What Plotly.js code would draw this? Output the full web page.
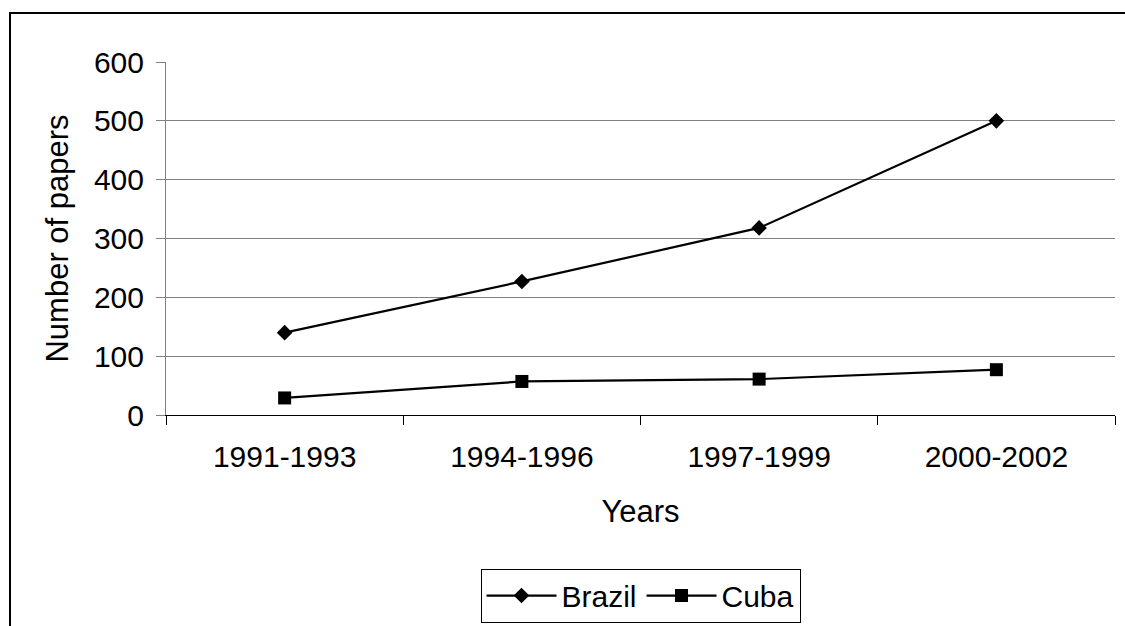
<!DOCTYPE html>
<html>
<head>
<meta charset="utf-8">
<script src="https://cdn.plot.ly/plotly-3.0.1.min.js"></script>
<style>
html,body{margin:0;padding:0;overflow:hidden;background:#fff;}
#chart{width:1125px;height:626px;position:relative;}
#frame{position:absolute;left:9px;top:12px;width:1200px;height:700px;border:2px solid #000;pointer-events:none;}
</style>
</head>
<body>
<div id="chart"></div>
<div id="frame"></div>
<script>
var categories = ["1991-1993", "1994-1996", "1997-1999", "2000-2002"];
var brazil = [140, 227, 318, 500];
var cuba = [29, 57, 61, 77];
var yTicks = [0, 100, 200, 300, 400, 500, 600];

var font = "Liberation Sans, Arial, sans-serif";

var traces = [
  {x: categories, y: brazil, name: "Brazil", type: "scatter", mode: "lines+markers",
   line: {color: "#000", width: 2.2}, marker: {symbol: "diamond", size: 12, color: "#000"}},
  {x: categories, y: cuba, name: "Cuba", type: "scatter", mode: "lines+markers",
   line: {color: "#000", width: 2.2}, marker: {symbol: "square", size: 13, color: "#000"}}
];

var layout = {
  width: 1125, height: 626,
  margin: {l: 166, r: 10, t: 62, b: 211, autoexpand: false},
  paper_bgcolor: "#fff", plot_bgcolor: "#fff",
  font: {family: font, color: "#000", size: 30},
  showlegend: true,
  xaxis: {
    type: "category", range: [-0.5, 3.5], automargin: false,
    tickson: "boundaries", ticks: "outside", ticklen: 9, tickcolor: "#000", tickwidth: 1,
    showline: true, linecolor: "#000", linewidth: 1,
    showgrid: false, zeroline: false,
    ticklabelstandoff: 15,
    tickfont: {size: 30, family: font},
    title: {text: "Years", font: {size: 31, family: font}, standoff: 28}
  },
  yaxis: {
    range: [0, 600], tickvals: yTicks, ticktext: yTicks.map(String), automargin: false,
    ticks: "outside", ticklen: 9, tickcolor: "#808080", tickwidth: 1,
    showline: true, linecolor: "#808080", linewidth: 1,
    showgrid: true, gridcolor: "#808080", gridwidth: 1, zeroline: false,
    ticklabelstandoff: 6,
    tickfont: {size: 30, family: font},
    title: {text: "Number of papers", font: {size: 31, family: font}, standoff: 16}
  },
  legend: {
    orientation: "h", x: 0.5, xanchor: "center", y: -0.435, yanchor: "top",
    bgcolor: "#fff", bordercolor: "#000", borderwidth: 1,
    font: {size: 30, family: font}, itemwidth: 70
  }
};

Plotly.newPlot("chart", traces, layout, {displayModeBar: false, staticPlot: true});
</script>
</body>
</html>
